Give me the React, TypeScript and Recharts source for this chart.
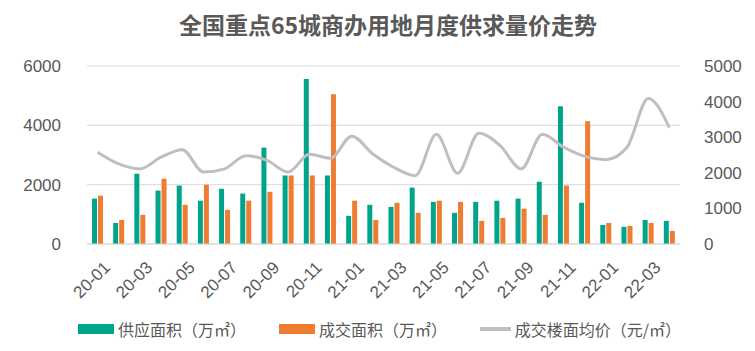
import {
    ComposedChart,
    Bar,
    Line,
    XAxis,
    YAxis,
    CartesianGrid,
    Legend,
} from "recharts";

const months = [
    "20-01", "20-02", "20-03", "20-04", "20-05", "20-06", "20-07", "20-08", "20-09", "20-10", "20-11", "20-12",
    "21-01", "21-02", "21-03", "21-04", "21-05", "21-06", "21-07", "21-08", "21-09", "21-10", "21-11", "21-12",
    "22-01", "22-02", "22-03", "22-04",
];

const supply = [
    1530, 710, 2370, 1800, 1970, 1460, 1860, 1700, 3250, 2310, 5560, 2310,
    950, 1320, 1250, 1900, 1420, 1050, 1420, 1460, 1530, 2100, 4640, 1390,
    640, 580, 810, 780,
];

const deal = [
    1630, 810, 980, 2200, 1320, 2000, 1150, 1460, 1760, 2310, 2310, 5050,
    1460, 810, 1390, 1050, 1460, 1420, 780, 880, 1190, 980, 1970, 4140,
    710, 610, 710, 440,
];

const price = [
    2580, 2250, 2110, 2440, 2650, 2020, 2110, 2480, 2350, 2020, 2520, 2410,
    3030, 2530, 2150, 1920, 3080, 1990, 3110, 2770, 2110, 3080, 2720, 2460,
    2370, 2720, 4090, 3270,
];

const data = months.map((m, i) => ({
    month: m,
    supply: supply[i],
    deal: deal[i],
    price: price[i],
}));

const GREEN = "#00a48a";
const ORANGE = "#ee7d31";
const GREY = "#bfbfbf";
const TEXT = "#595959";
const NUM_FONT = "'Liberation Sans Narrow', 'Liberation Sans', sans-serif";

const legendItems = [
    { label: "供应面积（万㎡）", color: GREEN, type: "bar" },
    { label: "成交面积（万㎡）", color: ORANGE, type: "bar" },
    { label: "成交楼面均价（元/㎡）", color: GREY, type: "line" },
];

function ChartLegend() {
    return (
        <div style={{ display: "flex", alignItems: "center", paddingLeft: 78 }}>
            {legendItems.map((it) => (
                <div
                    key={it.label}
                    style={{ display: "flex", alignItems: "center", width: 201, flexShrink: 0 }}
                >
                    <span
                        style={{
                            width: 36,
                            height: it.type === "bar" ? 10 : 4,
                            background: it.color,
                            display: "inline-block",
                        }}
                    />
                    <span style={{ fontSize: 16, color: TEXT, marginLeft: 4, whiteSpace: "nowrap" }}>
                        {it.label}
                    </span>
                </div>
            ))}
        </div>
    );
}

export default function App() {
    return (
        <div
            style={{
                position: "absolute",
                left: 0,
                top: 0,
                width: 755,
                height: 351,
                background: "#fff",
                fontFamily: "'Noto Sans CJK SC', 'Liberation Sans', sans-serif",
            }}
        >
            <div
                style={{
                    position: "absolute",
                    top: 7,
                    left: 0,
                    width: 776,
                    textAlign: "center",
                    fontSize: 23,
                    fontWeight: "bold",
                    color: TEXT,
                }}
            >
                全国重点65城商办用地月度供求量价走势
            </div>
            <ComposedChart
                width={755}
                height={351}
                data={data}
                margin={{ top: 66, right: 0, bottom: 0, left: 0 }}
                barSize={5}
                barGap={1}
            >
                <CartesianGrid vertical={false} stroke="#d9d9d9" yAxisId="left" />
                <XAxis
                    dataKey="month"
                    interval={1}
                    axisLine={{ stroke: "#d9d9d9" }}
                    tickLine={false}
                    height={83}
                    angle={-45}
                    textAnchor="end"
                    tick={{ fill: TEXT, fontSize: 17, fontFamily: NUM_FONT, dx: 5 }}
                    tickMargin={10}
                />
                <YAxis
                    yAxisId="left"
                    domain={[0, 6000]}
                    ticks={[0, 2000, 4000, 6000]}
                    axisLine={false}
                    tickLine={false}
                    width={87}
                    tickMargin={20}
                    tick={{ fill: TEXT, fontSize: 17, fontFamily: "'Liberation Sans', sans-serif" }}
                />
                <YAxis
                    yAxisId="right"
                    orientation="right"
                    domain={[0, 5000]}
                    ticks={[0, 1000, 2000, 3000, 4000, 5000]}
                    axisLine={false}
                    tickLine={false}
                    width={75}
                    tickMargin={18}
                    tick={{ fill: TEXT, fontSize: 17, fontFamily: "'Liberation Sans', sans-serif" }}
                />
                <Bar yAxisId="left" dataKey="supply" fill={GREEN} isAnimationActive={false} />
                <Bar yAxisId="left" dataKey="deal" fill={ORANGE} isAnimationActive={false} />
                <Line
                    yAxisId="right"
                    type="monotone"
                    dataKey="price"
                    stroke={GREY}
                    strokeWidth={3}
                    dot={false}
                    isAnimationActive={false}
                />
                <Legend
                    verticalAlign="bottom"
                    content={<ChartLegend />}
                    wrapperStyle={{ bottom: 10, left: 0 }}
                />
            </ComposedChart>
        </div>
    );
}
